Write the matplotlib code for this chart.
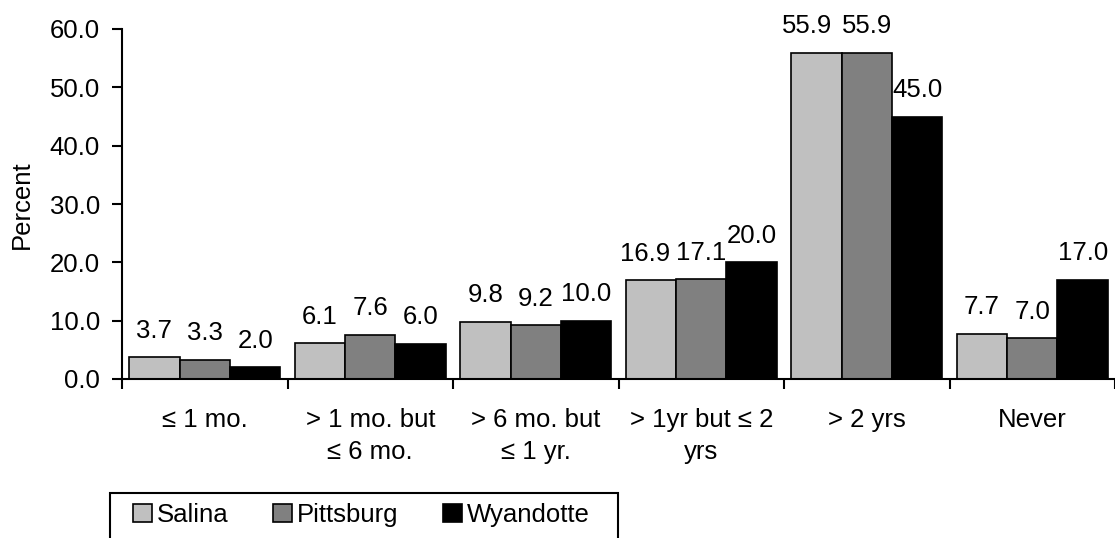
import matplotlib
matplotlib.use("Agg")
import matplotlib.pyplot as plt
from matplotlib.patches import Rectangle, Patch
import numpy as np

plt.rcParams['font.family'] = ['Liberation Sans', 'DejaVu Sans']

categories = ["\u2264 1 mo.", "> 1 mo. but\n\u2264 6 mo.", "> 6 mo. but\n\u2264 1 yr.",
              "> 1yr but \u2264 2\nyrs", "> 2 yrs", "Never"]
series_names = ["Salina", "Pittsburg", "Wyandotte"]
salina = [3.7, 6.1, 9.8, 16.9, 55.9, 7.7]
pittsburg = [3.3, 7.6, 9.2, 17.1, 55.9, 7.0]
wyandotte = [2.0, 6.0, 10.0, 20.0, 45.0, 17.0]
colors = ["#C0C0C0", "#808080", "#000000"]

W, H = 1115, 538
fig = plt.figure(figsize=(W / 100, H / 100), dpi=100)
ax = fig.add_axes([122 / W, 1 - 379 / H, (W - 122) / W, 350 / H])

fs = 18.5
x = np.arange(len(categories))
bw = 0.305
all_vals = [salina, pittsburg, wyandotte]
for i, (vals, name, c) in enumerate(zip(all_vals, series_names, colors)):
    pos = x + (i - 1) * bw
    ax.bar(pos, vals, width=bw, color=c, edgecolor="black", linewidth=1.2, label=name)
    for j, (xp, v) in enumerate(zip(pos, vals)):
        # nudge the left label when it sits level with its neighbour
        dx = 0
        if i == 0:
            diff = abs(v - all_vals[1][j])
            if diff < 0.05:
                dx = -7
            elif diff < 0.3:
                dx = -4
        ax.annotate("%.1f" % v, (xp, v), xytext=(dx, 10.5), textcoords="offset points",
                    ha="center", va="bottom", fontsize=fs)

ax.set_xlim(-0.5, len(categories) - 0.5)
ax.set_ylim(0, 60)
ax.set_yticks(np.arange(0, 61, 10))
ax.set_yticklabels(["%.1f" % t for t in np.arange(0, 61, 10)], fontsize=fs)

ax.set_xticks(np.arange(-0.5, len(categories), 1))
ax.set_xticklabels([])
ax.set_xticks(x, minor=True)
ax.set_xticklabels(categories, minor=True, fontsize=fs, linespacing=1.4)
ax.tick_params(axis="x", which="minor", length=0, pad=21)
ax.tick_params(axis="x", which="major", length=7, width=1.5, direction="out")
ax.tick_params(axis="y", length=7, width=1.5, direction="out", pad=9)

for s in ["top", "right"]:
    ax.spines[s].set_visible(False)
for s in ["left", "bottom"]:
    ax.spines[s].set_linewidth(1.5)

fig.text(22 / W, 1 - 205 / H, "Percent", rotation=90, ha="center", va="center", fontsize=fs)

# legend frame (cut off at bottom as in the original)
fig.patches.append(Rectangle((110 / W, -0.1), (618 - 110) / W, 0.1 + 1 - 493 / H,
                             transform=fig.transFigure, fill=False, edgecolor="black",
                             linewidth=1.5, clip_on=False))
handles = [Patch(facecolor=c, edgecolor="black", linewidth=1.2) for c in colors]
fig.legend(handles, series_names, loc="center left", bbox_to_anchor=(133 / W, 1 - 515 / H),
           ncol=3, frameon=False, fontsize=fs, borderpad=0, borderaxespad=0,
           handlelength=0.72, handleheight=0.72, handletextpad=0.2, columnspacing=1.75)

fig.savefig("out.png", dpi=100)
